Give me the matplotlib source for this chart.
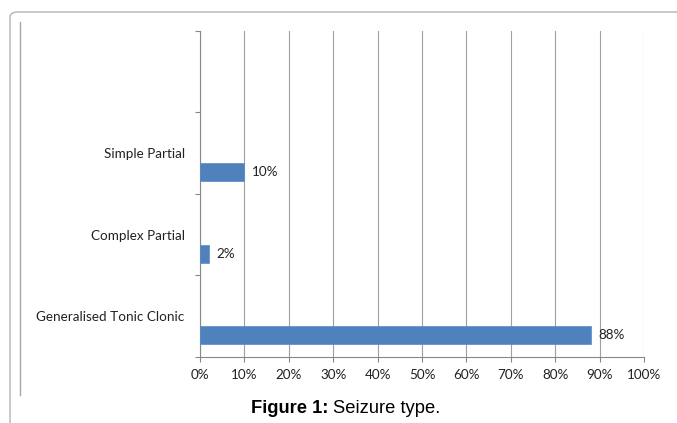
import matplotlib
matplotlib.use("Agg")
import matplotlib.pyplot as plt
from matplotlib.patches import FancyBboxPatch
from matplotlib.lines import Line2D

# seizure types, bottom to top (top slot is empty in the original)
categories = ["Generalised Tonic Clonic", "Complex Partial", "Simple Partial", ""]
values = [88, 2, 10]
value_labels = ["88%", "2%", "10%"]
xticks = [0, 10, 20, 30, 40, 50, 60, 70, 80, 90, 100]
xtick_labels = [f"{t}%" for t in xticks]

W, H = 677, 423
fig = plt.figure(figsize=(W / 100, H / 100), dpi=100)

def fx(px):
    return px / W

def fy(py):
    return 1 - py / H

# outer rounded frame and inner chart-area edge
frame = FancyBboxPatch((fx(10), fy(440)), fx(700), 428 / H,
                       boxstyle="round,pad=0,rounding_size=0.012",
                       transform=fig.transFigure, fill=False,
                       edgecolor="#b4b4b4", linewidth=1.0, clip_on=False)
fig.patches.append(frame)
fig.lines.append(Line2D([fx(20), fx(20)], [fy(22), fy(395)],
                        transform=fig.transFigure, color="#a8a8a8", linewidth=1.0))

ax = fig.add_axes([fx(200), fy(357), fx(644) - fx(200), (357 - 30.7) / H])

bar_color = "#4f81bd"
ypos = [i + 0.265 for i in range(len(values))]
ax.barh(ypos, values, height=0.22, color=bar_color, edgecolor="#5a8ac6", linewidth=0.5, zorder=3)

tfont = "Lato"
fs = 9.7
for y, v, lab in zip(ypos, values, value_labels):
    ax.text(v + 1.8, y, lab, va="center", ha="left", fontsize=fs, family=tfont, color="#222222")

ax.set_xlim(0, 100)
ax.set_ylim(0, 4)
ax.set_xticks(xticks)
ax.set_xticklabels(xtick_labels, family=tfont, fontsize=fs, color="#222222")
ax.set_yticks(range(5))
ax.set_yticklabels([])
ax.set_yticks([i + 0.5 for i in range(4)], minor=True)
ax.set_yticklabels(categories, minor=True, family=tfont, fontsize=fs, color="#222222")

ax.tick_params(axis="y", which="major", direction="out", length=3.6, color="#888888", width=0.8)
ax.tick_params(axis="y", which="minor", length=0, pad=11)
ax.tick_params(axis="x", direction="out", length=3.6, color="#888888", width=0.8, pad=5)

ax.grid(axis="x", color="#a0a0a0", linewidth=0.8, zorder=0)
for s in ["top", "right"]:
    ax.spines[s].set_visible(False)
for s in ["left", "bottom"]:
    ax.spines[s].set_color("#888888")
    ax.spines[s].set_linewidth(0.8)

# caption: bold "Figure 1:" followed by regular text
fig.canvas.draw()
r = fig.canvas.get_renderer()
cap_y = fy(408)
t1 = fig.text(fx(251), cap_y, "Figure 1:", fontsize=13.2, fontweight="bold",
              family="Liberation Sans", va="center", ha="left")
bb = t1.get_window_extent(renderer=r)
fig.text((bb.x1 + 5) / W, cap_y, "Seizure type.", fontsize=13.2,
         family="Liberation Sans", va="center", ha="left")

fig.savefig("out.png", dpi=100)
